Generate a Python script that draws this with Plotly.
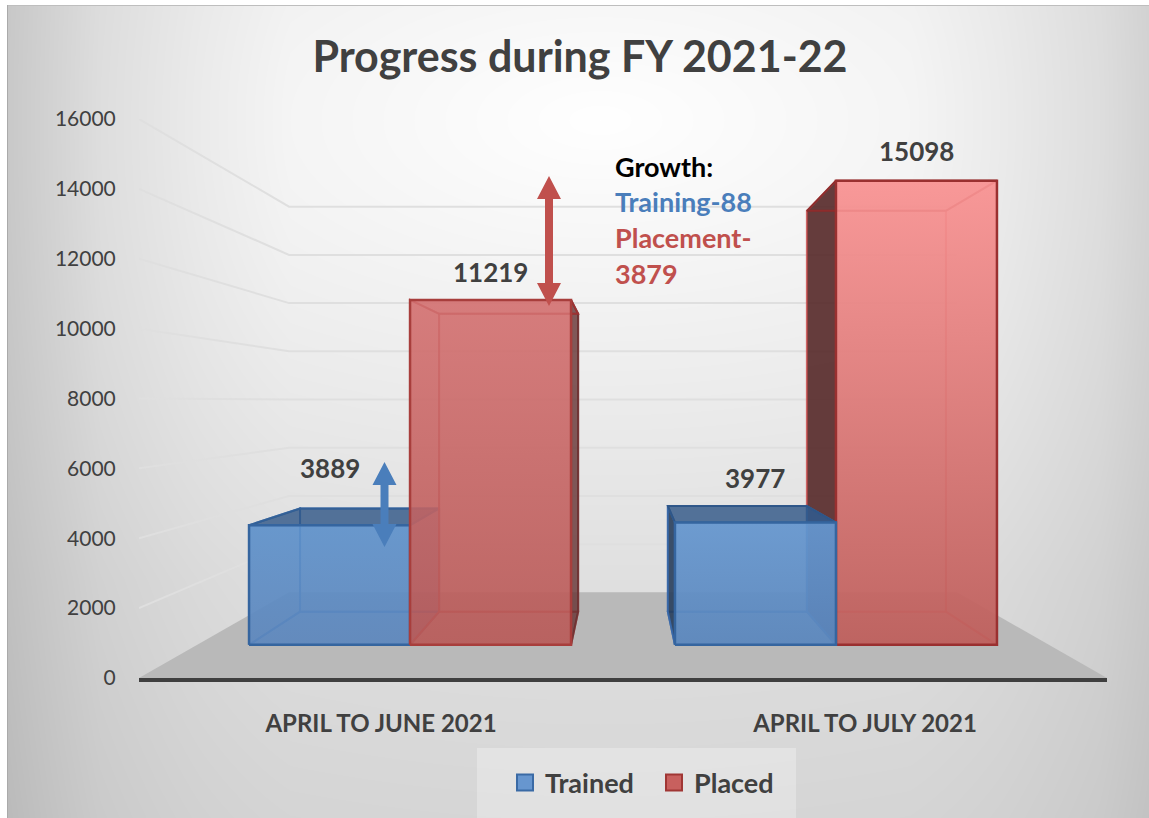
import base64, struct, zlib
import numpy as np
import plotly.graph_objects as go

# ---------- data ----------
categories = ["APRIL TO JUNE 2021", "APRIL TO JULY 2021"]
trained = [3889, 3977]
placed = [11219, 15098]
y_ticks = [0, 2000, 4000, 6000, 8000, 10000, 12000, 14000, 16000]
title_text = "Progress during FY 2021-22"
growth_lines = ["Growth:", "Training-88", "Placement-", "3879"]

# ---------- geometry of the pseudo-3D view ----------
W, H = 1149, 818
AX_L, AX_R, AX_T, AX_B = 139, 1107, 119, 678
CX, CV = 0.5, 7906          # vanishing centre (axis units)
S_WALL, S_FRONT, S_BACK = 0.69, 0.88, 0.76
HALF = 0.378                # bar width in category units


def px(x, v, s):
    return CX + s * (x - CX), CV + s * (v - CV)


def pap(x, y):
    return x / W, 1 - y / H


def poly(pts):
    return [p[0] for p in pts] + [pts[0][0]], [p[1] for p in pts] + [pts[0][1]]


# ---------- background gradient ----------
X0, Y0 = 7, 5
yy, xx = np.mgrid[Y0:H, X0:W]
fx = np.interp(np.abs(xx - 600), [0, 310, 400, 500, 600], [0, 10, 20, 33, 56])
fy = np.interp(np.abs(yy - 120), [0, 280, 460, 700], [0, 19, 31, 41])
img = np.clip(255 - np.sqrt(fx ** 2 + fy ** 2), 0, 255).astype(np.uint8)
img[0, :] = 190
img[:, 0] = 170


def png_uri(a):
    h, w = a.shape
    raw = b"".join(b"\x00" + a[i].tobytes() for i in range(h))

    def chunk(t, d):
        return struct.pack(">I", len(d)) + t + d + struct.pack(">I", zlib.crc32(t + d))

    data = (b"\x89PNG\r\n\x1a\n" + chunk(b"IHDR", struct.pack(">IIBBBBB", w, h, 8, 0, 0, 0, 0))
            + chunk(b"IDAT", zlib.compress(raw, 9)) + chunk(b"IEND", b""))
    return "data:image/png;base64," + base64.b64encode(data).decode()


fig = go.Figure()

# ---------- front faces as real bars ----------
bar_specs = [
    ("Trained", trained, -HALF, "rgba(79,129,189,0.25)"),
    ("Placed", placed, 0.0, "rgba(192,80,77,0.25)"),
]
for name, vals, off, col in bar_specs:
    lefts = [px(i + off, 0, S_FRONT)[0] for i in range(2)]
    rights = [px(i + off + HALF, 0, S_FRONT)[0] for i in range(2)]
    base = [px(0, 0, S_FRONT)[1]] * 2
    tops = [px(0, v, S_FRONT)[1] for v in vals]
    fig.add_trace(go.Bar(
        x=[0, 1], y=[t - b for t, b in zip(tops, base)], base=base, name=name,
        offset=[l - i for i, l in enumerate(lefts)],
        width=[r_ - l for l, r_ in zip(lefts, rights)],
        marker=dict(color=col, line=dict(width=0)), showlegend=False, hoverinfo="skip"))


def face(pts, fill, line, lw=2, grad=None):
    xs, ys = poly(pts)
    t = dict(x=xs, y=ys, mode="lines", line=dict(color=line, width=lw),
             fill="toself", showlegend=False, hoverinfo="skip")
    if grad:
        t["fillgradient"] = dict(type="vertical", colorscale=[[0, grad[0]], [1, grad[1]]])
    else:
        t["fillcolor"] = fill
    fig.add_trace(go.Scatter(**t))


def box(i, off, v, st):
    x0, x1 = i + off, i + off + HALF
    c = lambda x, val, s: px(x, val, s)
    F, B = S_FRONT, S_BACK
    edge_in = st["inner"]
    # back
    face([c(x0, 0, B), c(x1, 0, B), c(x1, v, B), c(x0, v, B)], st["back"], edge_in)
    # floor of box
    face([c(x0, 0, F), c(x1, 0, F), c(x1, 0, B), c(x0, 0, B)], "rgba(0,0,0,0)", edge_in)
    # left / right
    face([c(x0, 0, F), c(x0, v, F), c(x0, v, B), c(x0, 0, B)], st["left"], edge_in)
    face([c(x1, 0, F), c(x1, v, F), c(x1, v, B), c(x1, 0, B)], st["right"], st.get("right_line", edge_in))
    # top
    face([c(x0, v, F), c(x1, v, F), c(x1, v, B), c(x0, v, B)], st["top"], st["edge_top"])
    # front overlay
    face([c(x0, 0, F), c(x1, 0, F), c(x1, v, F), c(x0, v, F)], None, st["edge"], 2.5, grad=st["grad"])


T = "rgba(0,0,0,0)"
blue0 = dict(back=T, left=T, right="rgba(60,80,140,0.45)", top="rgba(50,88,135,0.82)",
             inner="rgba(58,110,175,0.9)", edge_top="rgba(50,95,150,0.9)", edge="#35659f",
             grad=("rgba(93,135,189,0.9)", "rgba(95,146,203,0.9)"))
red0 = dict(back=T, left=T, right="rgba(100,50,50,0.8)", top=T,
            inner="rgba(176,62,62,0.7)", edge_top="rgba(160,50,50,0.9)", edge="#a83e3c",
            right_line="rgba(110,50,50,0.9)",
            grad=("rgba(184,90,88,0.88)", "rgba(212,114,114,0.88)"))
red1 = dict(back=T, left="rgba(85,40,40,0.9)", right=T, top=T,
            inner="rgba(205,80,80,0.6)", edge_top="#8e2c2c", edge="#9a3030",
            right_line="rgba(205,80,80,0.6)",
            grad=("rgba(190,95,92,0.92)", "rgba(250,148,148,0.92)"))
blue1 = dict(back=T, left="rgba(40,62,92,0.9)", right="rgba(60,95,160,0.5)", top="rgba(50,88,135,0.82)",
             inner="rgba(58,105,170,0.9)", edge_top="rgba(45,85,135,0.9)", edge="#35659f",
             grad=("rgba(91,135,189,0.92)", "rgba(102,151,207,0.92)"))

box(0, -HALF, trained[0], blue0)
box(0, 0, placed[0], red0)
box(1, 0, placed[1], red1)
box(1, -HALF, trained[1], blue1)

# ---------- legend carriers ----------
fig.add_trace(go.Scatter(x=[None], y=[None], mode="markers", name="Trained",
                         marker=dict(symbol="square", size=16, color="#6796cf", line=dict(color="#3a6aa5", width=2))))
fig.add_trace(go.Scatter(x=[None], y=[None], mode="markers", name="Placed",
                         marker=dict(symbol="square", size=16, color="#c8605e", line=dict(color="#a03634", width=2))))

# ---------- walls and floor ----------
shapes = []
LEFT, RIGHT = -0.5, 1.5
fl = [px(LEFT, 0, 1), px(RIGHT, 0, 1), px(RIGHT, 0, S_WALL), px(LEFT, 0, S_WALL)]
xs, ys = poly(fl)
path = "M" + " L".join(f"{a},{b}" for a, b in zip(xs, ys)) + " Z"
shapes.append(dict(type="path", path=path, xref="x", yref="y", fillcolor="#b9b9b9",
                   line=dict(width=0), layer="below"))
for v in y_ticks[1:]:
    a, b, c = px(LEFT, v, 1), px(LEFT, v, S_WALL), px(RIGHT, v, S_WALL)
    shapes.append(dict(type="path", path=f"M{a[0]},{a[1]} L{b[0]},{b[1]} L{c[0]},{c[1]}",
                       xref="x", yref="y", line=dict(color="#dfdfdf", width=2), layer="below"))


def arrow(cx, y0, y1, color):
    hw, sw, hh = 12, 4, 23
    pts = [(cx, y0), (cx + hw, y0 + hh), (cx + sw, y0 + hh), (cx + sw, y1 - hh), (cx + hw, y1 - hh),
           (cx, y1), (cx - hw, y1 - hh), (cx - sw, y1 - hh), (cx - sw, y0 + hh), (cx - hw, y0 + hh)]
    p = [pap(*q) for q in pts]
    d = "M" + " L".join(f"{a:.5f},{b:.5f}" for a, b in p) + " Z"
    return dict(type="path", path=d, xref="paper", yref="paper", fillcolor=color,
                line=dict(width=0), layer="above")


shapes.append(arrow(384.5, 462, 547, "#4a7ebb"))
shapes.append(arrow(549, 176, 306, "#c0504d"))
lx0, ly0 = pap(477, 748)
lx1, ly1 = pap(796, 818)
shapes.append(dict(type="rect", xref="paper", yref="paper", x0=lx0, x1=lx1, y0=ly1, y1=ly0,
                   fillcolor="rgba(255,255,255,0.28)", line=dict(width=0), layer="below"))

# ---------- text ----------
FONT = "Lato"
DARK = "#404040"
ann = []
label_pos = [(0, -HALF, trained[0], 57), (0, 0, placed[0], 28), (1, -HALF, trained[1], 45), (1, 0, placed[1], 30)]
for i, off, v, dy in label_pos:
    x, y = px(i + off + HALF / 2, v, S_FRONT)
    ann.append(dict(x=x, y=y, xref="x", yref="y", text=str(v), showarrow=False, yshift=dy,
                    font=dict(family=FONT, size=26, color=DARK, weight=700)))
growth_colors = ["#000000", "#4a7ebb", "#c0504d", "#c0504d"]
growth_y = [166, 202, 238, 273]
for s, col, yp in zip(growth_lines, growth_colors, growth_y):
    a, b = pap(613, yp)
    ann.append(dict(x=a, y=b, xref="paper", yref="paper", text=s, showarrow=False, xanchor="left",
                    yanchor="middle", font=dict(family=FONT, size=27, color=col, weight=700)))

fig.update_layout(
    width=W, height=H, margin=dict(l=0, r=0, t=0, b=0, autoexpand=False), paper_bgcolor="white",
    plot_bgcolor="rgba(0,0,0,0)", barmode="overlay",
    title=dict(text=title_text, x=580 / W, xanchor="center", y=1 - 57 / H, yanchor="middle",
               font=dict(family=FONT, size=43, color=DARK, weight=700)),
    xaxis=dict(domain=[AX_L / W, AX_R / W], range=[LEFT, RIGHT], tickvals=[0, 1], ticktext=categories,
               showgrid=False, zeroline=False, showline=True, linecolor="#3f3f3f", linewidth=4,
               ticks="outside", ticklen=21, tickcolor="rgba(0,0,0,0)",
               tickfont=dict(family=FONT, size=24, color=DARK, weight=700)),
    yaxis=dict(domain=[1 - AX_B / H, 1 - AX_T / H], range=[0, 16000], tickvals=y_ticks, tickformat="d",
               showgrid=False, zeroline=False, ticks="outside", ticklen=18, tickcolor="rgba(0,0,0,0)",
               tickfont=dict(family=FONT, size=21, color="#404040")),
    images=[dict(source=png_uri(img), xref="paper", yref="paper", x=X0 / W, y=1 - Y0 / H,
                 sizex=(W - X0) / W, sizey=(H - Y0) / H, sizing="stretch", xanchor="left", yanchor="top",
                 layer="below")],
    shapes=shapes, annotations=ann,
    showlegend=True,
    legend=dict(orientation="h", x=505 / W, y=1 - 783 / H, xanchor="left", yanchor="middle",
                bgcolor="rgba(0,0,0,0)", entrywidth=104, entrywidthmode="pixels", itemclick=False,
                font=dict(family=FONT, size=27, color=DARK, weight=700)),
)

fig.write_html("out.html", post_script="document.body.style.margin='0';", config={"displayModeBar": False})
